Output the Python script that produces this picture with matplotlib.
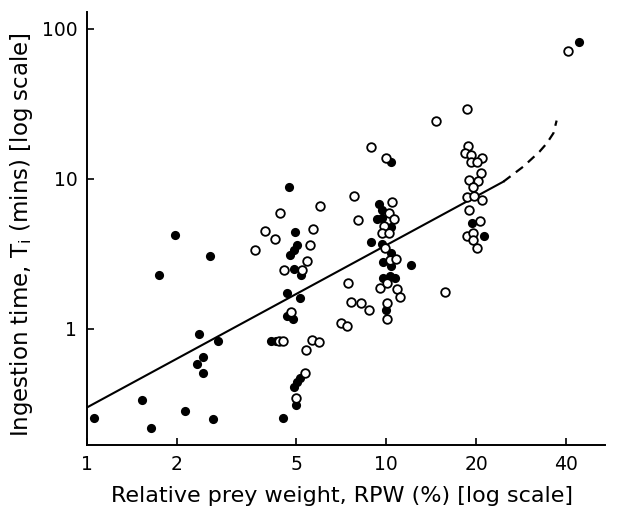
#!/usr/bin/env python3
"""Ingestion time vs relative prey weight, log-log scatter with fitted line."""

import matplotlib
matplotlib.use("Agg")
import matplotlib.pyplot as plt
from matplotlib.ticker import FixedLocator, NullLocator

# filled circles (RPW %, ingestion time mins)
filled_rpw = [1.97, 2.58, 1.74, 2.36, 2.75, 2.44, 2.34, 2.44, 1.53, 1.055, 2.12, 1.64, 2.63,
              4.75, 4.95, 5.04, 4.93, 4.77, 4.94, 5.2, 4.67, 5.14,
              4.65, 4.90, 4.13, 4.29, 5.16, 5.03, 4.94, 5.01, 4.54,
              10.4, 9.5, 9.67, 9.35, 9.72, 10.4, 8.93, 9.67,
              10.4, 9.8, 10.4, 12.1, 9.8, 10.3, 10.7, 9.98,
              19.4, 21.2, 44.1]
filled_time = [4.25, 3.05, 2.30, 0.93, 0.836, 0.647, 0.58, 0.506, 0.338, 0.256, 0.285, 0.22, 0.25,
               8.8, 4.41, 3.65, 3.36, 3.11, 2.50, 2.28, 1.73, 1.62,
               1.22, 1.166, 0.836, 0.836, 0.469, 0.446, 0.412, 0.31, 0.255,
               12.9, 6.85, 6.21, 5.44, 5.47, 4.8, 3.80, 3.69,
               3.23, 2.81, 2.63, 2.68, 2.18, 2.26, 2.18, 1.34,
               5.07, 4.19, 82.3]

# open circles
open_rpw = [6.03, 4.41, 3.95, 4.26, 5.69, 3.64, 5.58, 5.46, 4.57, 5.23,
            4.82, 4.40, 4.54, 5.64, 5.96, 5.40, 5.37, 5.01,
            8.93, 9.98, 7.80, 10.5, 8.08, 10.2, 10.6, 9.87, 9.67, 10.2,
            9.93, 10.3, 10.8, 7.45, 9.55, 10.1, 10.9, 11.1, 7.64, 8.25, 8.77, 10.05, 10.05, 7.06, 7.39,
            14.7, 15.8,
            18.7, 18.8, 18.3, 19.3, 20.9, 19.3, 20.2, 20.7, 18.9, 20.3, 19.5, 18.7, 19.7, 21.0, 18.9,
            20.6, 18.6, 19.6, 19.6, 20.2,
            40.5]
open_time = [6.6, 5.96, 4.48, 3.96, 4.66, 3.38, 3.61, 2.84, 2.46, 2.49,
             1.30, 0.836, 0.836, 0.845, 0.823, 0.724, 0.511, 0.345,
             16.3, 13.9, 7.67, 7.06, 5.33, 5.9, 5.39, 4.88, 4.34, 4.38,
             3.45, 2.88, 2.91, 2.02, 1.87, 2.02, 1.84, 1.64, 1.52, 1.48, 1.33, 1.48, 1.166, 1.09, 1.05,
             24.2, 1.76,
             29.2, 16.7, 15.0, 14.5, 13.9, 13.0, 12.9, 10.9, 9.8, 9.7, 8.89, 7.62, 7.7, 7.24, 6.21,
             5.25, 4.17, 4.34, 3.92, 3.45,
             71.7]

# fitted line and its dashed extrapolation
fit_rpw = [1.0, 24.7]
fit_time = [0.30, 9.6]
curve_rpw = [24.7, 28.8, 32.6, 34.5, 36.3, 37.2]
curve_time = [9.6, 12.1, 15.2, 17.3, 20.2, 24.5]

x_ticks = [1, 2, 5, 10, 20, 40]
y_ticks = [1, 10, 100]


def main():
    plt.rcParams["font.family"] = "DejaVu Sans"
    fig = plt.figure(figsize=(6.32, 5.15), dpi=100)
    ax = fig.add_axes([0.1377, 0.136, 0.8196, 0.841])

    ax.plot(fit_rpw, fit_time, "k-", linewidth=1.5)
    ax.plot(curve_rpw, curve_time, "k", linestyle=(0, (4, 3)), linewidth=1.6)

    ax.plot(filled_rpw, filled_time, "o", color="black", markersize=6.6,
            markeredgewidth=0, linestyle="none")
    ax.plot(open_rpw, open_time, "o", markerfacecolor="white", markeredgecolor="black",
            markersize=6.2, markeredgewidth=1.3, linestyle="none")

    ax.set_xscale("log")
    ax.set_yscale("log")
    ax.set_xlim(1, 54)
    ax.set_ylim(0.1686, 130)

    ax.xaxis.set_major_locator(FixedLocator(x_ticks))
    ax.xaxis.set_minor_locator(NullLocator())
    ax.set_xticklabels([str(v) for v in x_ticks])
    ax.yaxis.set_major_locator(FixedLocator(y_ticks))
    ax.yaxis.set_minor_locator(NullLocator())
    ax.set_yticklabels([str(v) for v in y_ticks])

    ax.tick_params(direction="in", length=5, width=1.2, labelsize=13.5, pad=7)
    for side in ["top", "right"]:
        ax.spines[side].set_visible(False)
    for side in ["left", "bottom"]:
        ax.spines[side].set_linewidth(1.4)

    ax.set_xlabel("Relative prey weight, RPW (%) [log scale]", fontsize=16)
    ax.set_ylabel(r"Ingestion time, T$_{\rm i}$ (mins) [log scale]", fontsize=16.5)
    ax.xaxis.set_label_coords(0.493, -0.095)
    ax.yaxis.set_label_coords(-0.1, 0.485)

    fig.savefig("out.png", dpi=100)


if __name__ == "__main__":
    main()
